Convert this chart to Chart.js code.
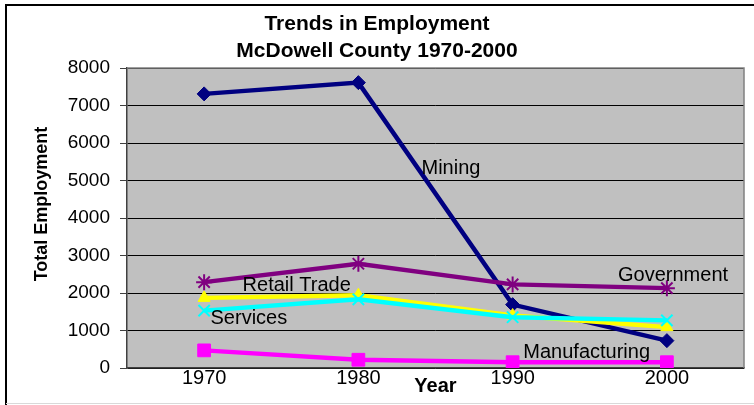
<!DOCTYPE html>
<html lang="en">
<head>
  <meta charset="UTF-8">
  <title>Trends in Employment</title>
  <script src="https://cdn.jsdelivr.net/npm/chart.js"></script>
  <style>
    body { margin: 0; background: #fff; }
    #wrap { width: 754px; height: 405px; }
  </style>
</head>
<body>
  <div id="wrap"><canvas id="myChart"></canvas></div>

  <script>
    const years = ['1970', '1980', '1990', '2000'];
    const mining = [7310, 7610, 1690, 730];
    const manufacturing = [470, 220, 155, 155];
    const retailTrade = [1870, 1940, 1400, 1090];
    const services = [1530, 1830, 1355, 1270];
    const government = [2290, 2780, 2230, 2130];
    const yTicks = [0, 1000, 2000, 3000, 4000, 5000, 6000, 7000, 8000];

    const titleLines = ['Trends in Employment', 'McDowell County 1970-2000'];
    const xTitle = 'Year';
    const yTitle = 'Total Employment';

    // series names written inside the plot, anchored at (category index, value)
    const seriesLabels = [
      { text: 'Mining', at: 1.60, value: 5320 },
      { text: 'Retail Trade', at: 0.60, value: 2200 },
      { text: 'Services', at: 0.29, value: 1320 },
      { text: 'Government', at: 3.04, value: 2467 },
      { text: 'Manufacturing', at: 2.48, value: 413 }
    ];

    const FONT = "'Liberation Sans', Arial, sans-serif";

    const framePlugin = {
      id: 'frame',
      beforeDraw(chart) {
        const { ctx, chartArea: a } = chart;
        ctx.save();
        ctx.fillStyle = '#fff';
        ctx.fillRect(0, 0, chart.width, chart.height);
        ctx.fillStyle = '#c0c0c0';
        ctx.fillRect(a.left, a.top, a.right - a.left, a.bottom - a.top);
        // outer chart border (cropped on right/bottom)
        ctx.strokeStyle = '#000';
        ctx.lineWidth = 2;
        ctx.beginPath();
        ctx.moveTo(6, chart.height);
        ctx.lineTo(6, 5);
        ctx.lineTo(chart.width, 5);
        ctx.stroke();
        ctx.strokeStyle = '#d9d9d9';
        ctx.lineWidth = 1;
        ctx.beginPath();
        ctx.moveTo(6, chart.height - 1.5);
        ctx.lineTo(chart.width, chart.height - 1.5);
        ctx.stroke();
        ctx.restore();
      },
      beforeDatasetsDraw(chart) {
        const { ctx, chartArea: a } = chart;
        ctx.save();
        ctx.strokeStyle = '#808080';
        ctx.lineWidth = 1.5;
        ctx.beginPath();
        ctx.moveTo(a.left, a.top);
        ctx.lineTo(a.right, a.top);
        ctx.lineTo(a.right, a.bottom);
        ctx.stroke();
        ctx.restore();
      },
      afterDraw(chart) {
        const { ctx, chartArea: a, scales } = chart;
        ctx.save();
        ctx.fillStyle = '#000';
        ctx.textAlign = 'center';
        ctx.textBaseline = 'middle';

        ctx.font = 'bold 21px ' + FONT;
        ctx.fillText(titleLines[0], chart.width / 2, 24);
        ctx.fillText(titleLines[1], chart.width / 2, 51);

        ctx.font = 'bold 20px ' + FONT;
        ctx.fillText(xTitle, (a.left + a.right) / 2, 386);

        ctx.save();
        ctx.font = 'bold 18px ' + FONT;
        ctx.translate(42, 204);
        ctx.rotate(-Math.PI / 2);
        ctx.fillText(yTitle, 0, 0);
        ctx.restore();

        ctx.font = '20px ' + FONT;
        seriesLabels.forEach(l => {
          ctx.fillText(l.text, scales.x.getPixelForValue(l.at), scales.y.getPixelForValue(l.value));
        });
        ctx.restore();
      }
    };

    function series(label, data, color, style, radius, order) {
      return {
        label: label,
        data: data,
        borderColor: color,
        backgroundColor: color,
        borderWidth: 4.5,
        pointStyle: style,
        pointRadius: radius,
        pointBorderWidth: (style === 'star' || style === 'crossRot') ? 2 : 1,
        pointBackgroundColor: color,
        pointBorderColor: color,
        tension: 0,
        order: order
      };
    }

    new Chart(document.getElementById('myChart'), {
      type: 'line',
      data: {
        labels: years,
        datasets: [
          series('Mining', mining, '#000080', 'rectRot', 7, 5),
          series('Manufacturing', manufacturing, '#ff00ff', 'rect', 9, 4),
          series('Retail Trade', retailTrade, '#ffff00', 'triangle', 7, 3),
          series('Services', services, '#00ffff', 'crossRot', 8, 2),
          series('Government', government, '#800080', 'star', 8, 1)
        ]
      },
      options: {
        responsive: true,
        maintainAspectRatio: false,
        animation: false,
        layout: { padding: { top: 68, right: 6, left: 0, bottom: 0 } },
        plugins: {
          legend: { display: false },
          tooltip: { enabled: false }
        },
        scales: {
          x: {
            type: 'category',
            offset: true,
            grid: { display: false, drawTicks: false },
            border: { display: true, color: '#404040', width: 1.5 },
            ticks: {
              color: '#000',
              padding: 0,
              font: { family: FONT, size: 20, lineHeight: 1 }
            },
            afterFit: s => { s.height = 37; }
          },
          y: {
            min: 0,
            max: 8000,
            afterBuildTicks: s => { s.ticks = yTicks.map(v => ({ value: v })); },
            grid: { color: '#000', lineWidth: 1, tickColor: '#404040', tickLength: 7 },
            border: { display: true, color: '#404040', width: 1.5 },
            ticks: {
              color: '#000',
              padding: 10,
              font: { family: FONT, size: 19 },
              callback: v => String(v)
            },
            afterFit: s => { s.width = 127; }
          }
        }
      },
      plugins: [framePlugin]
    });
  </script>
</body>
</html>
